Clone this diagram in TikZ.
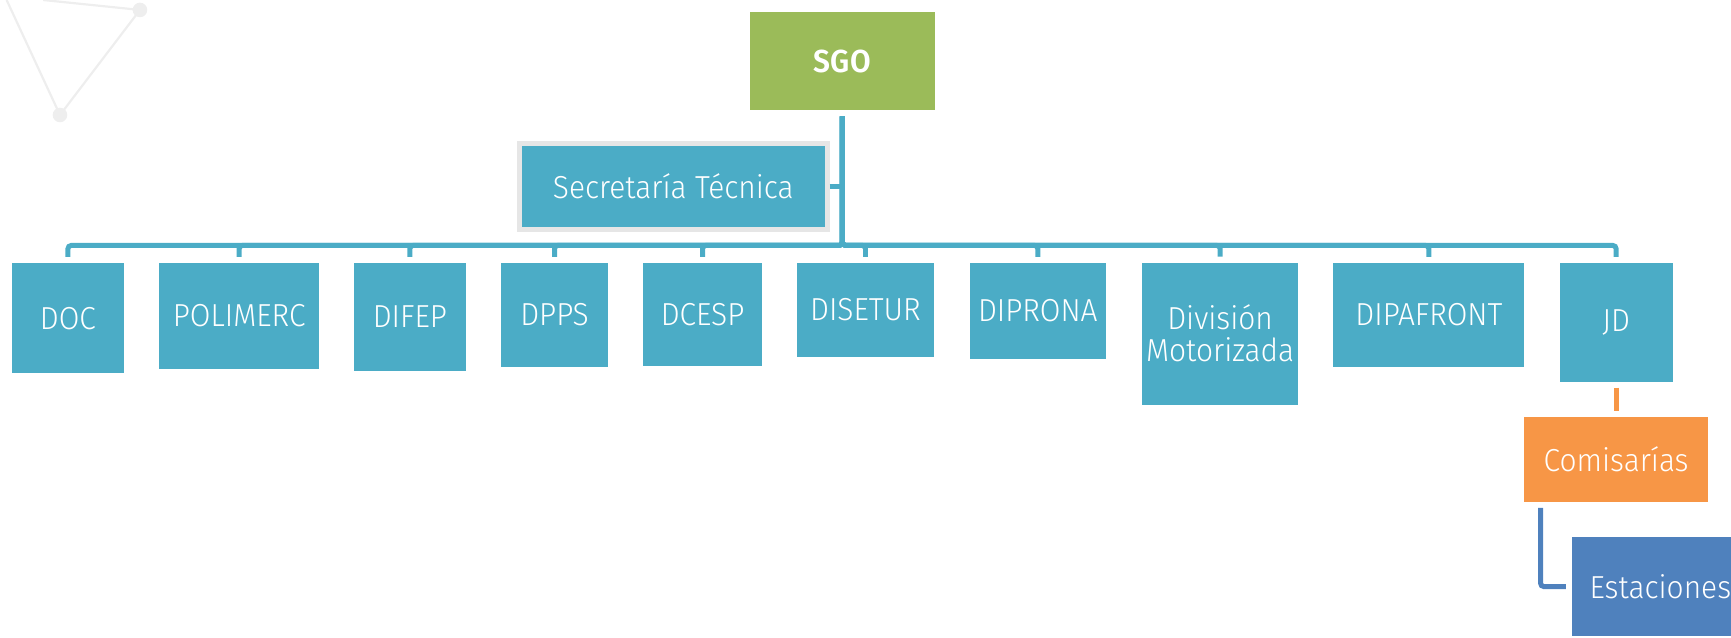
\documentclass[tikz,border=0pt]{standalone}
\usepackage{fontspec}
\IfFontExistsTF{Fira Sans Light}
  {\setmainfont{Fira Sans}[UprightFont=* Light, BoldFont=* SemiBold, FakeStretch=0.94]}
  {\setmainfont{Fira Sans}[FakeStretch=0.93]}
\definecolor{sgogreen}{HTML}{9BBB59}
\definecolor{unitteal}{HTML}{4BACC6}
\definecolor{comorange}{HTML}{F79646}
\definecolor{estblue}{HTML}{4F81BD}
\definecolor{decogray}{HTML}{EEEEEE}
\definecolor{framegray}{HTML}{E6E6E6}
\tikzset{
  box/.style={rectangle, inner sep=0pt, text=white, align=center,
    font=\fontsize{14.4}{14.5}\selectfont},
  unit/.style={box, fill=unitteal},
  link/.style={draw=unitteal, line width=2.25pt, rounded corners=1.5pt,
    shorten <=2.5pt, shorten >=2.5pt},
  deco/.style={draw=decogray, line width=1pt},
}

\begin{document}
\begin{tikzpicture}[x=0.5pt, y=-0.5pt]
    \useasboundingbox (0,0) rectangle (1567,577);
    \begin{scope}
        \clip (0,0) rectangle (1567,577);
        \draw[deco] (39,0) -- (126.7,9) -- (54.3,104.1) -- (6,0);
        \fill[decogray] (126.7,9) circle (3.3pt) (54.3,104.1) circle (3.3pt);
    \end{scope}

    \node[box, fill=sgogreen, minimum width=83.5pt, minimum height=44.5pt,
      font=\fontsize{14.4}{14.5}\selectfont\bfseries] (sgo) at (762.5,55.5) {SGO};
    \node[unit, draw=framegray, line width=2.25pt, minimum width=139.25pt,
      minimum height=39pt] (sec) at (609.5,168.8) {Secretaría Técnica};

    \node[unit, minimum width=50.5pt, minimum height=50pt] (doc) at (61.5,288) {DOC};
    \node[unit, minimum width=72.5pt, minimum height=48pt] (polimerc) at (216.5,286) {POLIMERC};
    \node[unit, minimum width=50.5pt, minimum height=49pt] (difep) at (371,287) {DIFEP};
    \node[unit, minimum width=48.5pt, minimum height=47pt] (dpps) at (502,285) {DPPS};
    \node[unit, minimum width=53.5pt, minimum height=46.5pt] (dcesp) at (636,284.5) {DCESP};
    \node[unit, minimum width=62pt, minimum height=42.5pt] (disetur) at (783.5,280.5) {DISETUR};
    \node[unit, minimum width=61.5pt, minimum height=43.5pt] (diprona) at (939.5,281.5) {DIPRONA};
    \node[unit, minimum width=70.5pt, minimum height=64.25pt] (divmot) at (1104.5,302) {División\\Motorizada};
    \node[unit, minimum width=86.5pt, minimum height=47pt] (dipafront) at (1293.5,285) {DIPAFRONT};
    \node[unit, minimum width=51.25pt, minimum height=53.75pt] (jd) at (1463,291.7) {JD};

    \node[box, fill=comorange, minimum width=83pt, minimum height=38.25pt] (com) at (1463,416) {Comisarías};
    \node[box, fill=estblue, minimum width=80pt, minimum height=45pt] (est) at (1503,531) {Estaciones};

    \foreach \unit in {doc,polimerc,difep,dpps,dcesp,disetur,diprona,divmot,dipafront,jd}
        \draw[link] (sgo.south) -- ++(0,121.8) -| (\unit.north);
    \draw[link, shorten <=0pt, shorten >=0pt] (sec.east) -- (sec.east -| sgo.south);
    \draw[link, draw=comorange] (jd.south) -- (com.north);
    \draw[link, draw=estblue] ([xshift=7.5pt]com.south west) |- (est.west);
\end{tikzpicture}
\end{document}
